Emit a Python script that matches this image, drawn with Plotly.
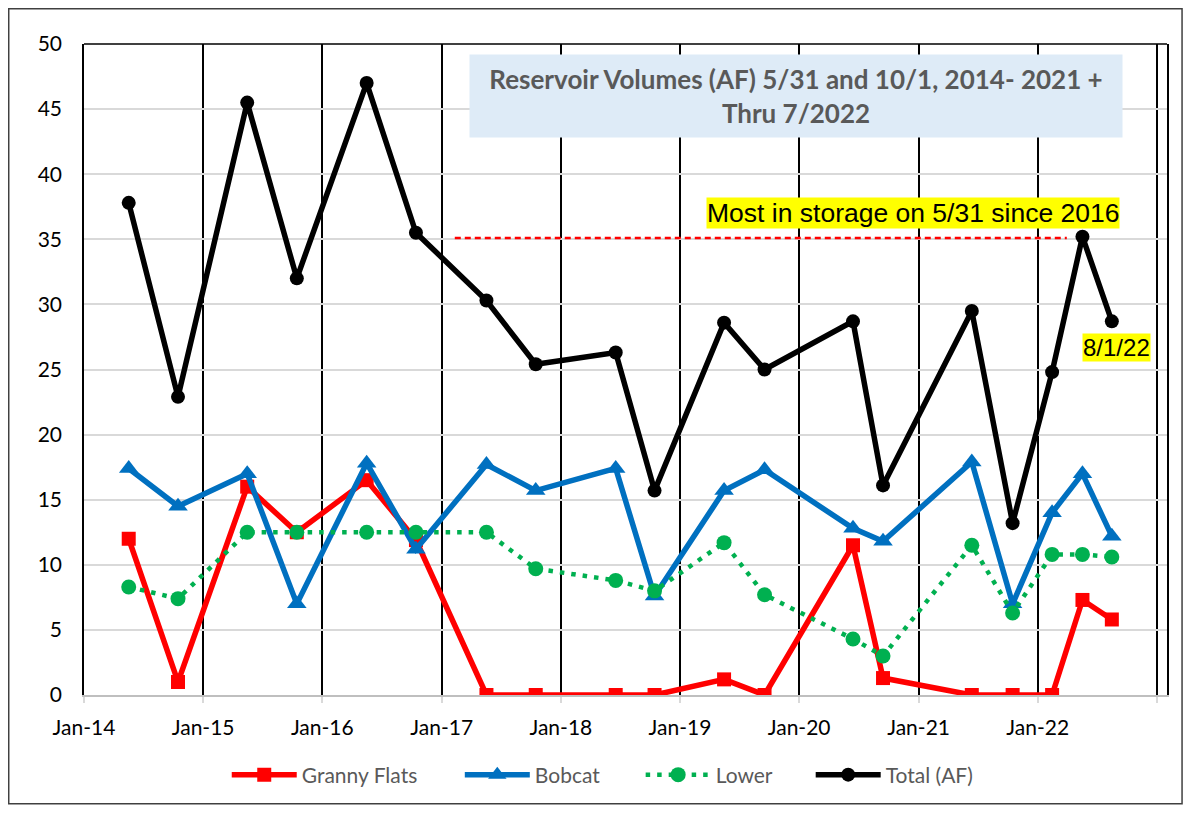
import plotly.graph_objects as go

dates = ["2014-05-18", "2014-10-16", "2015-05-16", "2015-10-15", "2016-05-16", "2016-10-14",
         "2017-05-18", "2017-10-16", "2018-06-18", "2018-10-15", "2019-05-16", "2019-09-17",
         "2020-06-14", "2020-09-14", "2021-06-13", "2021-10-16", "2022-02-14", "2022-05-18",
         "2022-08-16"]
granny_flats = [12.0, 1.0, 16.0, 12.5, 16.5, 11.9, 0, 0, 0, 0, 1.2, 0, 11.5, 1.3, 0, 0, 0, 7.3, 5.8]
bobcat = [17.4, 14.5, 17.0, 7.0, 17.8, 11.2, 17.7, 15.7, 17.4, 7.6, 15.7, 17.3, 12.8, 11.8, 17.9, 7.0, 14.0, 17.0, 12.2]
lower = [8.3, 7.4, 12.5, 12.5, 12.5, 12.5, 12.5, 9.7, 8.8, 8.0, 11.7, 7.7, 4.3, 3.0, 11.5, 6.3, 10.8, 10.8, 10.6]
total = [37.8, 22.9, 45.5, 32.0, 47.0, 35.5, 30.3, 25.4, 26.3, 15.7, 28.6, 25.0, 28.7, 16.1, 29.5, 13.2, 24.8, 35.2, 28.7]

ref_dates = ["2017-02-10", "2022-03-31"]
ref_values = [35.1, 35.1]

x_range = ["2014-01-01", "2023-02-01"]
y_ticks = [0, 5, 10, 15, 20, 25, 30, 35, 40, 45, 50]

title_text = "Reservoir Volumes (AF) 5/31 and 10/1, 2014- 2021 +<br>Thru 7/2022"
note_text = "Most in storage on 5/31 since 2016"
last_text = "8/1/22"

series = [
    ("Granny Flats", granny_flats, "#FF0000", "square", 14, None, 5.5, "legend", 0.1318),
    ("Bobcat", bobcat, "#0070C0", "triangle-up", 17, None, 5.5, "legend2", 0.3470),
    ("Lower", lower, "#00B050", "circle", 15, "4.5px,7px", 4.5, "legend3", 0.5140),
    ("Total (AF)", total, "#000000", "circle", 14, None, 5.5, "legend4", 0.6710),
]

fig = go.Figure()
legend_layouts = {}
for name, vals, color, sym, size, dash, lw, leg, lx in series:
    fig.add_trace(go.Scatter(x=dates, y=vals, name=name, mode="lines+markers", legend=leg,
                             line=dict(color=color, width=lw, dash=dash),
                             marker=dict(symbol=sym, size=size, color=color)))
    legend_layouts[leg] = dict(orientation="h", x=lx, xanchor="left", y=-0.1212, yanchor="middle",
                               font=dict(family="Lato", size=21, color="#595959"), itemwidth=65,
                               bgcolor="rgba(0,0,0,0)")

fig.add_trace(go.Scatter(x=ref_dates, y=ref_values, mode="lines", showlegend=False,
                         line=dict(color="#FF0000", width=2.5, dash="6px,4px"), hoverinfo="skip"))

fig.update_layout(
    width=1175, height=798,
    margin=dict(l=76, r=16, t=36, b=110),
    paper_bgcolor="white", plot_bgcolor="white",
    font=dict(family="Lato", size=21, color="#000000"),
    xaxis=dict(type="date", range=x_range, tick0="2014-01-01", dtick="M12", tickformat="%b-%y",
               showgrid=True, gridcolor="#000000", gridwidth=1.5,
               showline=True, linecolor="#BFBFBF", linewidth=1.5,
               ticks="outside", ticklen=6, tickcolor="#D9D9D9", tickwidth=1.5,
               tickfont=dict(family="Lato", size=21, color="#000000"), zeroline=False,
               ticklabelstandoff=7),
    yaxis=dict(range=[0, 50], tickvals=y_ticks, showgrid=True, gridcolor="#D9D9D9", gridwidth=1.5,
               showline=True, linecolor="#000000", linewidth=1.5, mirror=True,
               ticks="", tickfont=dict(family="Lato", size=21, color="#000000"), zeroline=False,
               ticklabelstandoff=16),
    showlegend=True,
    **legend_layouts,
)

fig.add_shape(type="line", xref="paper", yref="paper", x0=0, x1=1, y0=1, y1=1,
              line=dict(color="#000000", width=1.5))
fig.add_shape(type="rect", xref="paper", yref="paper", x0=-0.0695, x1=1.0139, y0=-0.1672, y1=1.054,
              line=dict(color="#404040", width=1.5), layer="below")

fig.add_annotation(xref="paper", yref="paper", x=0.6574, y=0.9202, text="<b>" + title_text + "</b>",
                   showarrow=False, bgcolor="#DEEBF7", width=650, height=80,
                   font=dict(family="Lato", size=26, color="#595959"), align="center",
                   xanchor="center", yanchor="middle")
fig.add_annotation(xref="paper", yref="paper", x=0.7655, y=0.7408, text=note_text, showarrow=False,
                   bgcolor="#FFFF00", font=dict(family="Liberation Sans", size=26.5, color="#000000"),
                   xanchor="center", yanchor="middle", borderpad=0)
fig.add_annotation(xref="paper", yref="paper", x=0.9538, y=0.5337, text=last_text, showarrow=False,
                   bgcolor="#FFFF00", font=dict(family="Liberation Sans", size=24, color="#000000"),
                   xanchor="center", yanchor="middle", borderpad=0)

fig.write_html("out.html", config={"displayModeBar": False})
